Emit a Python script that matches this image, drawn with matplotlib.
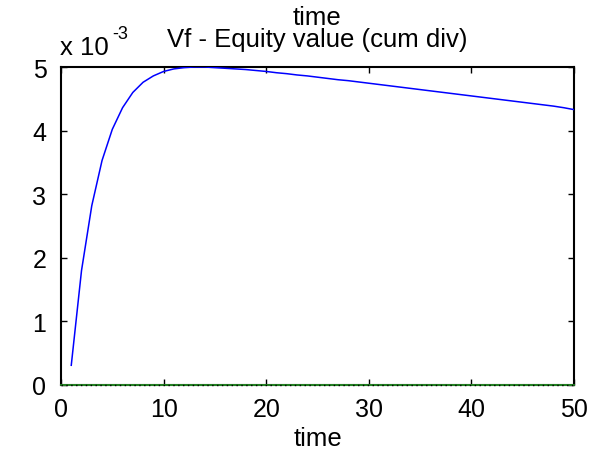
import numpy as np
import matplotlib
matplotlib.use("Agg")
import matplotlib.pyplot as plt
from matplotlib.ticker import FuncFormatter

# Vf - equity value (cum div) per period
t = list(range(1, 51))
vf = [0.31e-3, 1.80e-3, 2.82e-3, 3.53e-3, 4.02e-3, 4.36e-3, 4.60e-3, 4.76e-3, 4.86e-3, 4.93e-3,
      4.97e-3, 4.99e-3, 5.00e-3, 5.00e-3, 4.99e-3, 4.98e-3, 4.97e-3, 4.96e-3, 4.945e-3, 4.93e-3,
      4.91e-3, 4.895e-3, 4.875e-3, 4.86e-3, 4.84e-3, 4.82e-3, 4.80e-3, 4.785e-3, 4.765e-3, 4.745e-3,
      4.725e-3, 4.705e-3, 4.685e-3, 4.665e-3, 4.645e-3, 4.625e-3, 4.605e-3, 4.585e-3, 4.565e-3, 4.545e-3,
      4.525e-3, 4.505e-3, 4.485e-3, 4.465e-3, 4.445e-3, 4.425e-3, 4.405e-3, 4.385e-3, 4.36e-3, 4.33e-3]
zero_t = [0, 50]
zero_v = [0, 0]
xticks = [0, 10, 20, 30, 40, 50]
yticks = [0, 1e-3, 2e-3, 3e-3, 4e-3, 5e-3]

plt.rcParams["font.family"] = ["Liberation Sans", "DejaVu Sans"]
FS = 18     # tick labels
FT = 18.5   # title / labels

fig = plt.figure(figsize=(6.02, 4.56), dpi=100)
ax = fig.add_axes([61 / 602, 1 - 386 / 456, 513 / 602, 318 / 456])

ax.plot(zero_t, zero_v, color="#2a9a2a", lw=1.2, clip_on=False, zorder=4)
ax.plot(zero_t, zero_v, color="black", lw=1.0, ls=(0, (1, 2.5)), clip_on=False, zorder=5)
ax.plot(t, vf, color="blue", lw=1.1, zorder=3)

ax.set_xlim(0, 50)
ax.set_ylim(0, 5e-3)
ax.set_xticks(xticks)
ax.set_yticks(yticks)
ax.yaxis.set_major_formatter(FuncFormatter(lambda v, p: f"{v * 1e3:g}"))
ax.tick_params(direction="in", length=4, width=1, top=True, right=True, labelsize=FS)
ax.tick_params(axis="x", pad=9)
ax.tick_params(axis="y", pad=10.5)
for s in ax.spines.values():
    s.set_linewidth(1.5)

ax.set_xlabel("time", fontsize=FT, labelpad=3)
ax.set_title("Vf - Equity value (cum div)", fontsize=FT, y=(386 - 47) / 318,
             va="baseline", pad=0)
fig.text(317 / 602, 1 - 25 / 456, "time", fontsize=FT, ha="center", va="baseline")

fig.text(60 / 602, 1 - 55 / 456, "x 10", fontsize=FT, ha="left", va="baseline")
fig.text(112 / 602, 1 - 39 / 456, "-3", fontsize=FT * 0.7, ha="left", va="baseline")

fig.savefig("out.png", dpi=100)
